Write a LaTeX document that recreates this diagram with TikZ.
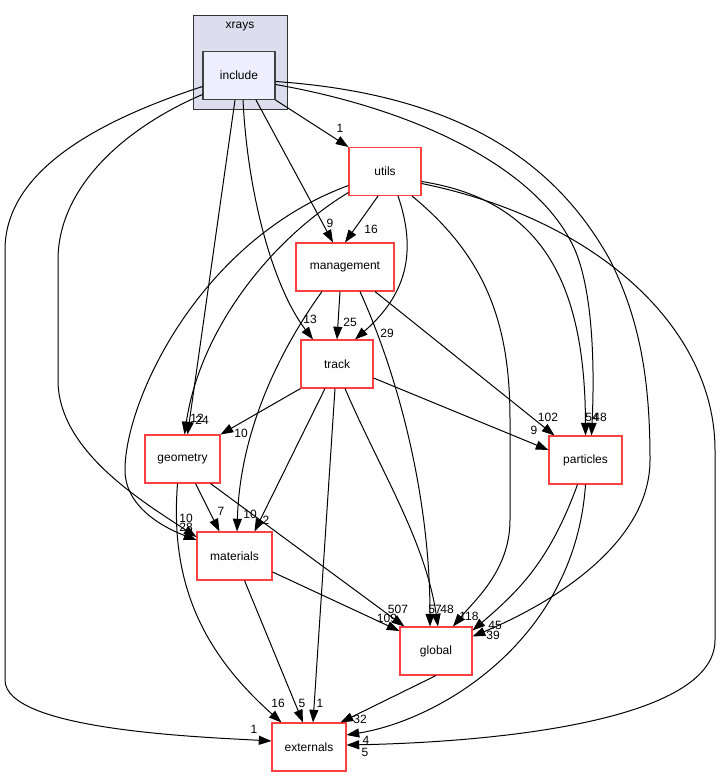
\documentclass[tikz,border=0pt]{standalone}
\usepackage{fontspec}
\setmainfont{Liberation Sans}
\usetikzlibrary{arrows.meta, calc}
\definecolor{dirred}{RGB}{255,64,64}
\definecolor{clusterfill}{RGB}{221,221,238}
\definecolor{incfill}{RGB}{238,238,255}
\tikzset{
>={Triangle[length=9.5pt,width=6.75pt]},
dir/.style={%
    rectangle,
    draw=dirred,
    line width=0.8pt,
    fill=white,
    minimum width=54pt,
    minimum height=36pt,
    inner sep=0pt,
    font=\fontsize{9pt}{11pt}\selectfont
},
incdir/.style={%
    dir, draw=black!75, fill=incfill,
},
cluster/.style={%
    rectangle,draw=black!80,fill=clusterfill,line width=0.75pt,minimum size=70.5pt,inner sep=0pt
},
dep/.style={->,line width=0.75pt,black},
lbl/.style={inner sep=0pt,font=\fontsize{9pt}{11pt}\selectfont},
}

\begin{document}
\begin{tikzpicture}[x=0.75pt,y=-0.75pt]
\useasboundingbox (0,0) rectangle (720,777);
% directories
\node[cluster] (xrays) at (240,63) {};
\node[lbl] (xraystitle) at (240,27) {xrays};
\node[incdir] (inc) at (239,75.5) {include};
\node[dir] (utils) at (385,171.5) {utils};
\node[dir, minimum width=73.5pt] (mgmt) at (345,267) {management};
\node[dir] (track) at (337,364) {track};
\node[dir, minimum width=56.25pt] (geom) at (182.5,459) {geometry};
\node[dir, minimum width=56.25pt] (mat) at (234.5,556) {materials};
\node[dir, minimum width=54.75pt] (part) at (585.5,460) {particles};
\node[dir] (glob) at (436,651) {global};
\node[dir, minimum width=55.5pt] (ext) at (309,747) {externals};

% include
\draw[dep] (inc.south east) -- (utils.north west) node[lbl] at (340,128) {1};
\draw[dep] ($(inc.south)+(17,0)$) -- ($(mgmt.north)+(-12,0)$) node[lbl] at (330,223) {9};
\draw[dep] ($(inc.south)+(4,0)$) .. controls (248,200) and (275,290) .. ($(track.north)+(-24,0)$) node[lbl] at (310,319) {13};
\draw[dep] ($(inc.south)+(-4,0)$) -- ($(geom.north)+(5,0)$) node[lbl] at (197,418) {12};
\draw[dep] ($(inc.west)+(0,19)$) .. controls (120,130) and (58,190) .. (58,260) -- (58,380) .. controls (58,450) and (140,500) .. ($(mat.west)+(0,-19)$) node[lbl] at (186,527) {28};
\draw[dep] ($(inc.west)+(0,11)$) .. controls (100,120) and (5,170) .. (5,250) -- (5,680) .. controls (5,730) and (200,737) .. ($(ext.west)+(0,-6)$) node[lbl] at (254,729) {1};
\draw[dep] ($(inc.east)+(0,9)$) .. controls (420,110) and (540,170) .. (575,250) .. controls (592,290) and (595,360) .. ($(part.north)+(6,0)$) node[lbl] at (600,417) {48};
\draw[dep] ($(inc.east)+(0,6)$) .. controls (470,95) and (560,170) .. (610,260) .. controls (640,320) and (650,380) .. (650,460) .. controls (650,540) and (560,600) .. ($(glob.north east)+(0,10)$) node[lbl] at (493,635) {39};

% utils
\draw[dep] ($(utils.south)+(-7,0)$) -- (mgmt.north) node[lbl] at (371,229) {16};
\draw[dep] ($(utils.south)+(13,0)$) .. controls (420,260) and (400,300) .. ($(track.north)+(18,0)$) node[lbl] at (387,333) {29};
\draw[dep] ($(utils.west)+(0,21)$) .. controls (270,240) and (200,330) .. ($(geom.north)+(2,0)$) node[lbl] at (202,420) {24};
\draw[dep] ($(utils.west)+(0,14)$) .. controls (200,240) and (125,400) .. (125,470) .. controls (125,510) and (170,530) .. ($(mat.west)+(0,-16)$) node[lbl] at (186,518) {10};
\draw[dep] ($(utils.east)+(0,10)$) .. controls (540,200) and (585,280) .. (part.north) node[lbl] at (592,417) {54};
\draw[dep] ($(utils.south)+(27,0)$) .. controls (490,260) and (510,330) .. (510,420) -- (510,520) .. controls (510,570) and (475,600) .. ($(glob.north)+(17,0)$) node[lbl] at (469,616) {118};
\draw[dep] ($(utils.east)+(0,12)$) .. controls (600,220) and (715,330) .. (715,450) -- (715,640) .. controls (715,720) and (500,742) .. ($(ext.east)+(0,-2)$) node[lbl] at (365,752) {5};

% management
\draw[dep] ($(mgmt.south)+(-5,0)$) -- (track.north) node[lbl] at (350,322) {25};
\draw[dep] ($(mgmt.south)+(-23,0)$) .. controls (280,350) and (240,430) .. ($(mat.north)+(2.5,0)$) node[lbl] at (250,514) {10};
\draw[dep] ($(mgmt.south)+(15,0)$) .. controls (400,380) and (430,500) .. ($(glob.north)+(-6,0)$) node[lbl] at (435,609) {57};
\draw[dep] ($(mgmt.south)+(30,0)$) -- ($(part.north west)+(6,0)$) node[lbl] at (548,417) {102};

% track
\draw[dep] (track.south west) -- (geom.north east) node[lbl] at (241,433) {10};
\draw[dep] ($(track.east)+(0,14)$) -- ($(part.west)+(0,-10)$) node[lbl] at (534,430) {9};
\draw[dep] ($(track.south)+(-12,0)$) -- ($(mat.north)+(20,0)$) node[lbl] at (266,520) {2};
\draw[dep] ($(track.south)+(8,0)$) .. controls (380,470) and (425,540) .. ($(glob.north)+(2,0)$) node[lbl] at (447,609) {48};
\draw[dep] ($(track.south)+(-2,0)$) -- ($(ext.north)+(4,0)$) node[lbl] at (320,703) {1};

% geometry, materials
\draw[dep] ($(geom.south)+(13,0)$) -- ($(mat.north)+(-15,0)$) node[lbl] at (221,511) {7};
\draw[dep] ($(geom.south east)+(-10,0)$) -- ($(glob.north west)+(5,0)$) node[lbl] at (398,609) {507};
\draw[dep] ($(geom.south)+(-5,0)$) .. controls (170,580) and (200,650) .. ($(ext.north west)+(10,0)$) node[lbl] at (278,703) {16};
\draw[dep] ($(mat.east)+(0,16)$) -- ($(glob.west)+(0,-20)$) node[lbl] at (387,618) {109};
\draw[dep] ($(mat.south)+(10,0)$) -- ($(ext.north)+(-6,0)$) node[lbl] at (302,703) {5};

% particles, global
\draw[dep] ($(part.south)+(-8,0)$) .. controls (550,560) and (520,590) .. ($(glob.north east)+(0,4)$) node[lbl] at (495,625) {45};
\draw[dep] (part.south) .. controls (575,640) and (440,720) .. ($(ext.east)+(0,-12)$) node[lbl] at (366,740) {4};
\draw[dep] (glob.south) -- ($(ext.north east)+(-6,0)$) node[lbl] at (360,719) {32};
\end{tikzpicture}
\end{document}
